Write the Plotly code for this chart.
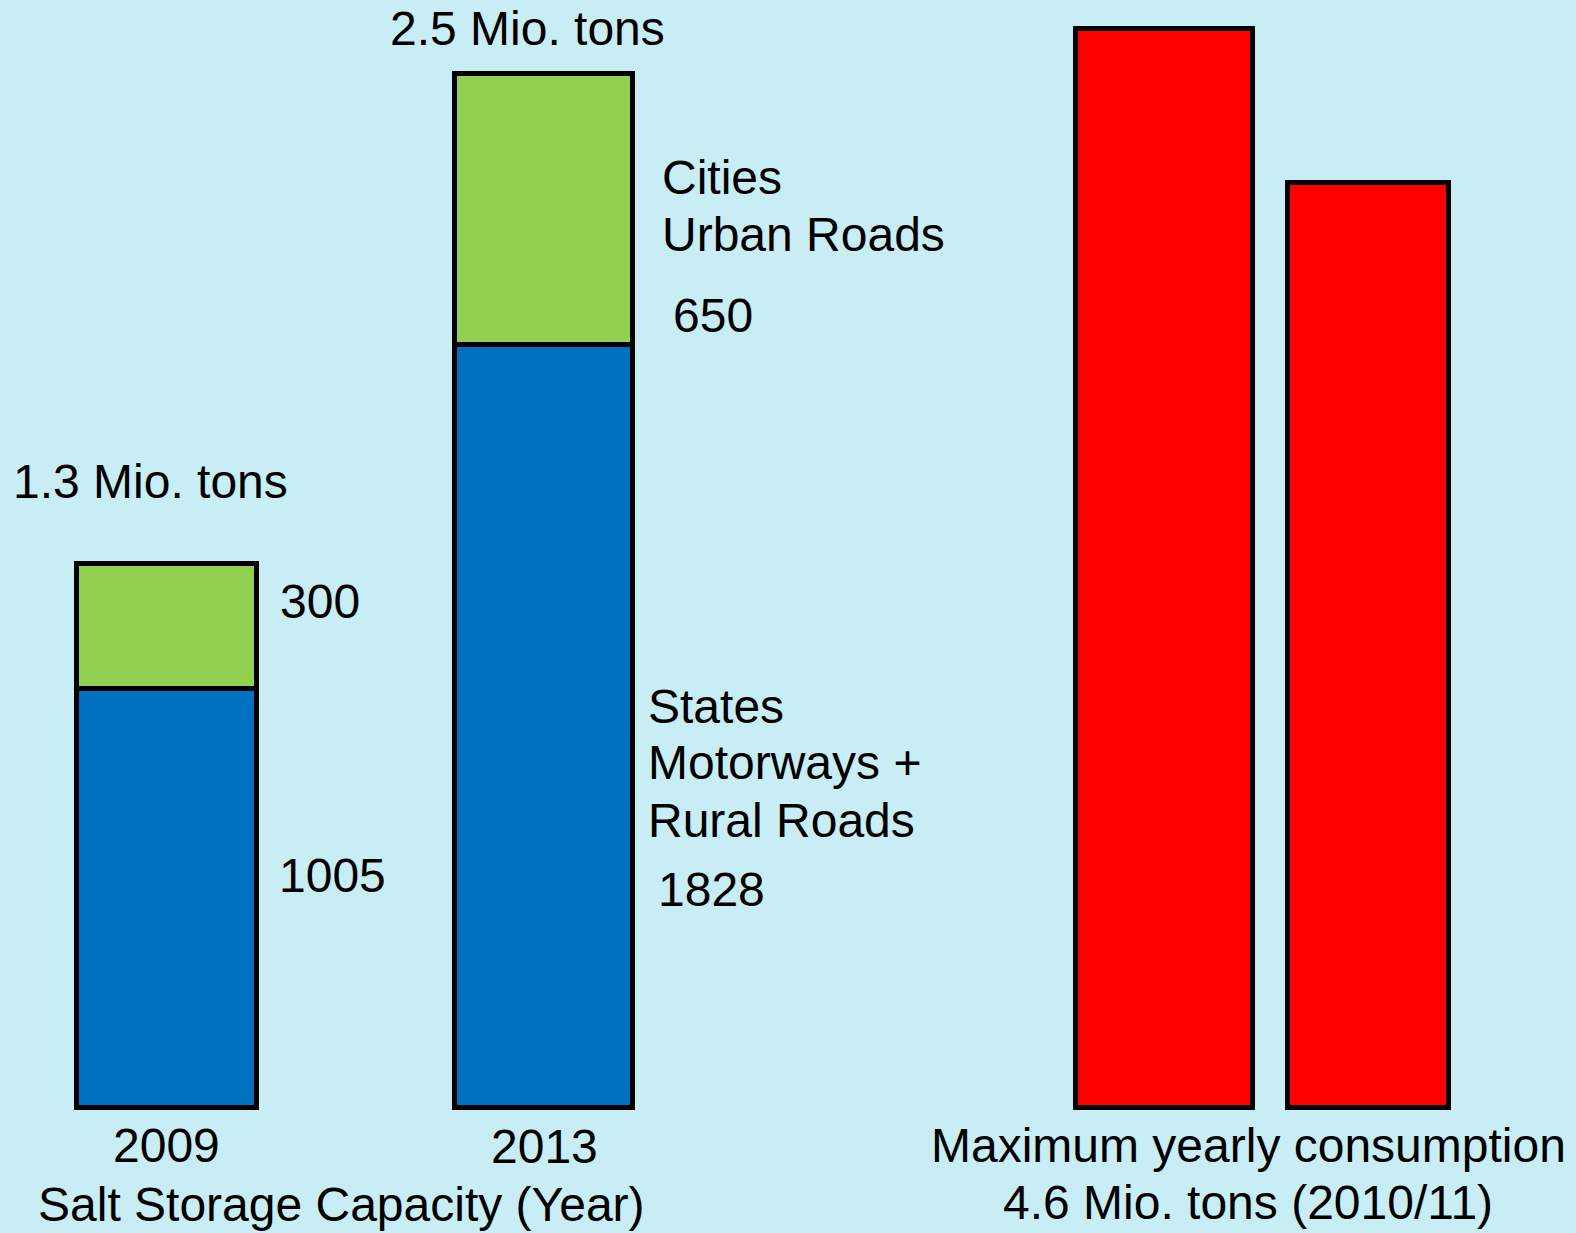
import plotly.graph_objects as go

# Salt storage capacity (thousand tons) by road operator
years = ["2009", "2013"]
states_roads = [1005, 1828]      # States: motorways + rural roads
cities_roads = [300, 650]        # Cities: urban roads
capacity_totals = ["1.3 Mio. tons", "2.5 Mio. tons"]

# Maximum yearly consumption 2010/11 (thousand tons), two blocks
consumption = [2587, 2218]
consumption_title = ["Maximum yearly consumption", "4.6 Mio. tons (2010/11)"]
capacity_title = "Salt Storage Capacity (Year)"

W, H = 1576, 1233
BASELINE = 1108            # pixel row of the zero line
SCALE = 0.4172             # pixels per thousand tons

BG = "#C9EDF5"
BLUE = "#0070C0"
GREEN = "#92D050"
RED = "#FF0000"
FONT = "Liberation Sans, Arial, sans-serif"
FS = 48

# layout geometry (x axis runs in pixels)
cap_x = [166.5, 544]
cap_w = [180, 178]
con_x = [1164, 1368]
con_w = [177, 161]

y_max = BASELINE / SCALE
y_min = y_max - H / SCALE

edge = dict(color="black", width=5)

fig = go.Figure()
fig.add_trace(go.Bar(x=cap_x, y=states_roads, width=cap_w,
                     marker=dict(color=BLUE, line=edge), name="States"))
fig.add_trace(go.Bar(x=cap_x, y=cities_roads, width=cap_w,
                     marker=dict(color=GREEN, line=edge), name="Cities"))
fig.add_trace(go.Bar(x=con_x, y=consumption, width=con_w,
                     marker=dict(color=RED, line=edge), name="Consumption"))


def py(p):
    """Convert a pixel row to paper coordinates."""
    return 1 - p / H


def label(text, x, row, anchor="left"):
    fig.add_annotation(text=text, x=x, y=py(row), xref="x", yref="paper",
                       xanchor=anchor, yanchor="middle", showarrow=False,
                       font=dict(family=FONT, size=FS, color="black"))


# totals above the capacity bars
label(capacity_totals[0], 11, 481)
label(capacity_totals[1], 388, 28)

# segment values and group names
label(str(cities_roads[0]), 278, 602)
label(str(states_roads[0]), 277, 875)
label("Cities", 660, 178)
label("Urban Roads", 660, 234)
label(str(cities_roads[1]), 671, 315)
label("States", 646, 706)
label("Motorways +", 646, 763)
label("Rural Roads", 646, 820)
label(str(states_roads[1]), 656, 889)

# category labels under the bars
label(years[0], cap_x[0], 1145, "center")
label(years[1], cap_x[1], 1146, "center")
label(capacity_title, 341, 1204, "center")
label(consumption_title[0], 1248, 1145, "center")
label(consumption_title[1], 1248, 1202, "center")

fig.update_layout(
    width=W, height=H,
    margin=dict(l=0, r=0, t=0, b=0),
    paper_bgcolor=BG, plot_bgcolor=BG,
    barmode="stack", bargap=0,
    showlegend=False,
    xaxis=dict(range=[0, W], visible=False, fixedrange=True),
    yaxis=dict(range=[y_min, y_max], visible=False, fixedrange=True),
)

fig.write_html("out.html")
